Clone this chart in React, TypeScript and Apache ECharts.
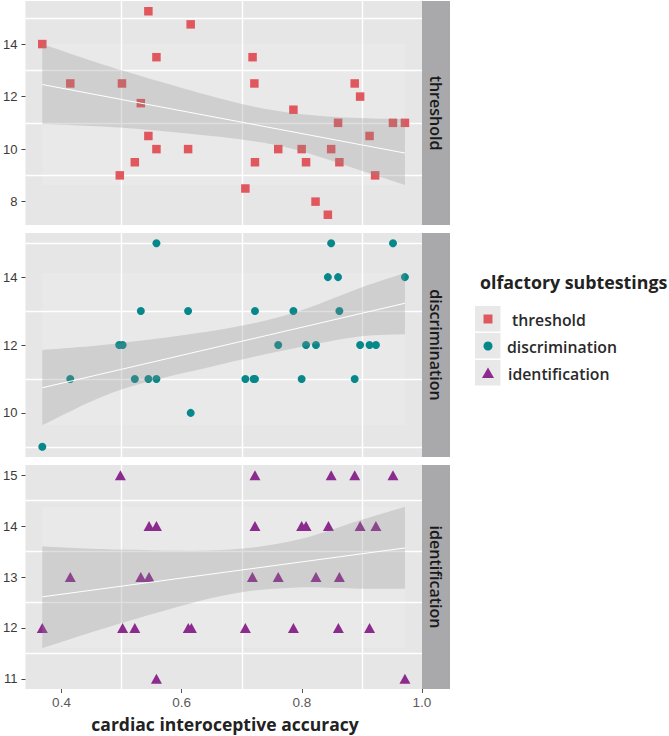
import React, { useEffect, useRef } from "react";
import * as echarts from "echarts";

// ---------- data ----------
const panelNames = ["threshold", "discrimination", "identification"];

const thresholdX = [0.368, 0.4146, 0.5006, 0.497, 0.522, 0.532, 0.5446, 0.5446, 0.558, 0.558, 0.6107, 0.615, 0.706, 0.718, 0.721, 0.722, 0.7607, 0.786, 0.7997, 0.807, 0.8228, 0.8433, 0.8488, 0.8603, 0.8625, 0.888, 0.897, 0.9127, 0.922, 0.9517, 0.9716];
const thresholdY = [14, 12.5, 12.5, 9, 9.5, 11.75, 15.25, 10.5, 13.5, 10, 10, 14.75, 8.5, 13.5, 12.5, 9.5, 10, 11.5, 10, 9.5, 8, 7.5, 10, 11, 9.5, 12.5, 12, 10.5, 9, 11, 11];

const discriminationX = [0.368, 0.4146, 0.496, 0.5017, 0.522, 0.532, 0.5446, 0.558, 0.558, 0.6107, 0.615, 0.706, 0.7198, 0.722, 0.722, 0.7607, 0.786, 0.7997, 0.807, 0.8235, 0.8433, 0.8488, 0.8603, 0.8625, 0.888, 0.897, 0.9127, 0.9233, 0.9517, 0.9716];
const discriminationY = [9, 11, 12, 12, 11, 13, 11, 11, 15, 13, 10, 11, 11, 11, 13, 12, 13, 11, 12, 12, 14, 15, 14, 13, 11, 12, 12, 12, 15, 14];

const identificationX = [0.368, 0.4146, 0.498, 0.5017, 0.522, 0.532, 0.5457, 0.5457, 0.558, 0.558, 0.611, 0.6162, 0.706, 0.7177, 0.722, 0.722, 0.7607, 0.786, 0.7997, 0.807, 0.8235, 0.8443, 0.8488, 0.8608, 0.8625, 0.888, 0.897, 0.9127, 0.9233, 0.9517, 0.9716];
const identificationY = [12, 13, 15, 12, 12, 13, 13, 14, 14, 11, 12, 12, 12, 13, 14, 15, 13, 12, 14, 14, 13, 14, 15, 12, 13, 15, 14, 12, 14, 15, 11];

// confidence bands
const thresholdBandX = [0.368, 0.497, 0.6835, 0.7855, 0.8956, 0.9716];
const thresholdBandUpper = [14.0, 13.02, 11.81, 11.37, 11.18, 11.14];
const thresholdBandLower = [10.95, 10.82, 10.41, 10.0, 9.2, 8.63];

const discriminationBandX = [0.368, 0.496, 0.67, 0.7855, 0.8956, 0.9716];
const discriminationBandUpper = [11.85, 12.05, 12.47, 12.94, 13.67, 14.12];
const discriminationBandLower = [9.64, 10.67, 11.45, 11.9, 12.25, 12.32];

const identificationBandX = [0.368, 0.496, 0.667, 0.7855, 0.8956, 0.9716];
const identificationBandUpper = [13.6, 13.54, 13.53, 13.71, 14.11, 14.38];
const identificationBandLower = [11.6, 12.08, 12.63, 12.79, 12.77, 12.77];

// fitted lines (end points)
const fitX = [0.368, 0.9716];
const thresholdFit = [12.46, 9.85];
const discriminationFit = [10.74, 13.23];
const identificationFit = [12.61, 13.57];

// axes
const xTicks = [0.4, 0.6, 0.8, 1.0];
const xGridValues = [0.5, 0.7, 0.9];
const thresholdTicks = [8, 10, 12, 14];
const discriminationTicks = [10, 12, 14];
const identificationTicks = [11, 12, 13, 14, 15];
const thresholdGrid = [9, 11, 13, 15];
const discriminationGrid = [9, 11, 13, 15];
const identificationGrid = [11.5, 12.5, 13.5, 14.5];
const yRanges = [
  [7.11, 15.64],
  [8.7, 15.3],
  [10.8, 15.2],
];

const legendTitle = "olfactory subtestings";
const xTitle = "cardiac interoceptive accuracy";

// ---------- styling ----------
const colors = ["#e0585d", "#06888a", "#8c2b8e"];
const symbols = ["rect", "circle", "triangle"];
const symbolSizes: any[] = [8.5, 8, [11, 10]];
const GRID_LEFT = 22;
const GRID_WIDTH = 400;
const GRID_HEIGHT = 224;
const gridTops = [1, 233, 465];
const PANEL_BG = "#e6e6e7";
const STRIP_BG = "#a9a9ac";
const BAND_FILL = "rgba(140,140,140,0.28)";

// Catmull-Rom -> cubic bezier through pixel points (current point must be pts[0])
function splineSegments(pts: number[][]): string {
  let s = "";
  for (let k = 0; k < pts.length - 1; k++) {
    const p0 = pts[k - 1] || pts[k];
    const p1 = pts[k];
    const p2 = pts[k + 1];
    const p3 = pts[k + 2] || p2;
    const c1x = p1[0] + (p2[0] - p0[0]) / 6;
    const c1y = p1[1] + (p2[1] - p0[1]) / 6;
    const c2x = p2[0] - (p3[0] - p1[0]) / 6;
    const c2y = p2[1] - (p3[1] - p1[1]) / 6;
    s += ` C${c1x},${c1y} ${c2x},${c2y} ${p2[0]},${p2[1]}`;
  }
  return s;
}

export default function App() {
  const ref = useRef<HTMLDivElement>(null);

  useEffect(() => {
    if (!ref.current) return;
    const chart = echarts.init(ref.current, undefined, { renderer: "svg" });

    const xs = [thresholdX, discriminationX, identificationX];
    const ys = [thresholdY, discriminationY, identificationY];
    const bandXs = [thresholdBandX, discriminationBandX, identificationBandX];
    const bandUp = [thresholdBandUpper, discriminationBandUpper, identificationBandUpper];
    const bandLo = [thresholdBandLower, discriminationBandLower, identificationBandLower];
    const fits = [thresholdFit, discriminationFit, identificationFit];
    const yTicks = [thresholdTicks, discriminationTicks, identificationTicks];
    const yGrids = [thresholdGrid, discriminationGrid, identificationGrid];

    const grid = gridTops.map((top) => ({
      left: GRID_LEFT,
      width: GRID_WIDTH,
      top,
      height: GRID_HEIGHT,
      show: true,
      backgroundColor: PANEL_BG,
      borderWidth: 0,
    }));

    const xAxis = [0, 1, 2].map((i) => ({
      type: "value",
      gridIndex: i,
      min: 0.34,
      max: 1.0,
      splitLine: { show: false },
      axisLine: { show: false },
      axisTick: {
        show: i === 2,
        length: 4,
        customValues: xTicks,
        lineStyle: { color: "#555", width: 1 },
      },
      axisLabel: {
        show: i === 2,
        customValues: xTicks,
        formatter: (v: number) => v.toFixed(1),
        color: "#5a5a5a",
        fontSize: 13.5,
        fontFamily: "Liberation Sans",
        margin: 6,
      },
    }));

    const yAxis = [0, 1, 2].map((i) => ({
      type: "value",
      gridIndex: i,
      min: yRanges[i][0],
      max: yRanges[i][1],
      splitLine: { show: false },
      axisLine: { show: false },
      axisTick: {
        show: true,
        length: 4,
        customValues: yTicks[i],
        lineStyle: { color: "#444", width: 1 },
      },
      axisLabel: {
        customValues: yTicks[i],
        color: "#3a3a3a",
        fontSize: 13,
        fontFamily: "Liberation Sans",
        margin: 8,
      },
    }));

    const series: any[] = [];
    [0, 1, 2].forEach((i) => {
      const bx = bandXs[i];
      const lo = bandLo[i];
      const up = bandUp[i];
      series.push({
        type: "scatter",
        name: panelNames[i],
        xAxisIndex: i,
        yAxisIndex: i,
        symbol: symbols[i],
        symbolSize: symbolSizes[i],
        itemStyle: { color: colors[i], opacity: 1 },
        data: xs[i].map((x, k) => [x, ys[i][k]]),
        z: 3,
        silent: true,
        markLine: {
          silent: true,
          symbol: "none",
          z: 1,
          label: { show: false },
          lineStyle: { color: "#ffffff", width: 1.4, type: "solid", opacity: 1 },
          data: [
            ...xGridValues.map((v) => ({ xAxis: v })),
            ...yGrids[i].map((v) => ({ yAxis: v })),
          ],
        },
        markArea: {
          silent: true,
          z: 1,
          itemStyle: { color: "rgba(255,255,255,0.14)" },
          data: [
            [
              { xAxis: bx[0], yAxis: Math.min(...lo) },
              { xAxis: bx[bx.length - 1], yAxis: Math.max(...up) },
            ],
          ],
        },
      });
      series.push({
        type: "custom",
        xAxisIndex: i,
        yAxisIndex: i,
        coordinateSystem: "cartesian2d",
        data: bx.map((x, k) => [x, lo[k], up[k]]),
        encode: { x: 0, y: [1, 2] },
        silent: true,
        z: 4,
        renderItem: (params: any, api: any) => {
          if (params.dataIndex !== 0) return null;
          const upPts = bx.map((x, k) => api.coord([x, up[k]]));
          const loPts = bx.map((x, k) => api.coord([x, lo[k]])).reverse();
          const d =
            `M${upPts[0][0]},${upPts[0][1]}` +
            splineSegments(upPts) +
            ` L${loPts[0][0]},${loPts[0][1]}` +
            splineSegments(loPts) +
            " Z";
          return {
            type: "path",
            shape: { pathData: d },
            style: { fill: BAND_FILL, stroke: null },
          };
        },
      });
      series.push({
        type: "line",
        xAxisIndex: i,
        yAxisIndex: i,
        data: fitX.map((x, k) => [x, fits[i][k]]),
        symbol: "none",
        lineStyle: { color: "#ffffff", width: 1 },
        silent: true,
        z: 5,
      });
    });

    const graphic: any[] = [];
    gridTops.forEach((top, i) => {
      graphic.push({
        type: "rect",
        shape: { x: GRID_LEFT + GRID_WIDTH, y: top, width: 28, height: GRID_HEIGHT },
        style: { fill: STRIP_BG },
        silent: true,
      });
      graphic.push({
        type: "text",
        x: GRID_LEFT + GRID_WIDTH + 14,
        y: top + GRID_HEIGHT / 2,
        rotation: -Math.PI / 2,
        style: {
          text: panelNames[i],
          fill: "#1a1a1a",
          fontSize: 16,
          fontWeight: 600,
          fontFamily: "Open Sans",
          textAlign: "center",
          textVerticalAlign: "middle",
        },
        silent: true,
      });
    });

    // legend
    graphic.push({
      type: "text",
      x: 480,
      y: 282,
      style: {
        text: legendTitle,
        fill: "#222",
        fontSize: 17.8,
        fontWeight: "bold",
        fontFamily: "Open Sans",
        textAlign: "left",
        textVerticalAlign: "middle",
      },
    });
    const keyTops = [306, 333, 360];
    const labelX = [512, 507, 508];
    keyTops.forEach((t, i) => {
      graphic.push({
        type: "rect",
        shape: { x: 475, y: t, width: 25.5, height: 25.5 },
        style: { fill: "#e8e8e8" },
      });
      const cx = 488;
      const cy = t + 13;
      if (i === 0) {
        graphic.push({ type: "rect", shape: { x: cx - 4.5, y: cy - 4.5, width: 9, height: 9 }, style: { fill: colors[0] } });
      } else if (i === 1) {
        graphic.push({ type: "circle", shape: { cx, cy, r: 4.5 }, style: { fill: colors[1] } });
      } else {
        graphic.push({
          type: "polygon",
          shape: { points: [[cx - 6, cy + 5], [cx + 6, cy + 5], [cx, cy - 5.5]] },
          style: { fill: colors[2] },
        });
      }
      graphic.push({
        type: "text",
        x: labelX[i],
        y: cy + 0.5,
        style: {
          text: panelNames[i],
          fill: "#2a2a2a",
          fontSize: 15.8,
          fontWeight: 600,
          fontFamily: "Open Sans",
          textAlign: "left",
          textVerticalAlign: "middle",
        },
      });
    });

    // x title
    graphic.push({
      type: "text",
      x: 225,
      y: 724,
      style: {
        text: xTitle,
        fill: "#222",
        fontSize: 17.5,
        fontWeight: "bold",
        fontFamily: "Open Sans",
        textAlign: "center",
        textVerticalAlign: "middle",
      },
    });

    chart.setOption({
      animation: false,
      backgroundColor: "#ffffff",
      grid,
      xAxis,
      yAxis,
      series,
      graphic,
    });

    return () => chart.dispose();
  }, []);

  return (
    <div
      ref={ref}
      style={{ position: "absolute", left: 0, top: 0, width: 669, height: 736 }}
    />
  );
}
